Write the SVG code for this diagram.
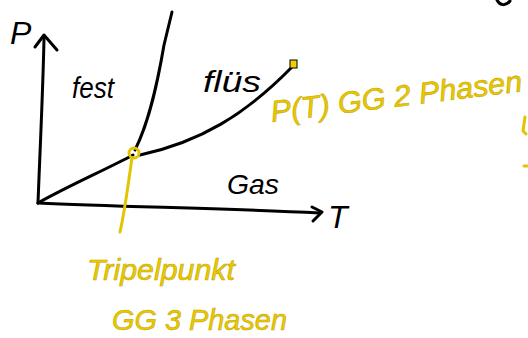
<svg xmlns="http://www.w3.org/2000/svg" width="528" height="338" viewBox="0 0 528 338">
<style>
.k{fill:none;stroke:#000;stroke-width:3;stroke-linecap:round;stroke-linejoin:round}
.y{fill:none;stroke:#e3c400;stroke-width:3;stroke-linecap:round;stroke-linejoin:round}
.tk{font-family:"Liberation Sans",sans-serif;fill:#000;font-style:italic}
.ty{font-family:"Liberation Sans",sans-serif;fill:#e8c900;stroke:#c9a800;stroke-width:0.6;font-style:italic}
</style>
<rect width="528" height="338" fill="#fff"/>
<g id="axes">
<path class="k" d="M38,203 C40,150 43,90 44,38"/>
<path class="k" d="M35,47 L44,35 L57,50"/>
<path class="k" d="M38,203 C120,207 220,208 320,213"/>
<path class="k" d="M312,207 L322,212 L313,221"/>
</g>
<g id="curves">
<path class="k" d="M38,203 C70,185 105,170 133,155"/>
<path class="k" d="M135,150 C150,120 158,80 164,45 L172,12"/>
<path class="k" d="M140,155 C200,142 245,115 292,67"/>
<path class="k" d="M497,0 C500,6 506,6 510,1"/>
</g>
<g id="labels">
<text class="tk" x="10" y="44" font-size="32">P</text>
<text class="tk" x="328" y="228" font-size="32">T</text>
<text class="tk" x="72" y="98" font-size="30" textLength="42" lengthAdjust="spacingAndGlyphs">fest</text>
<text class="tk" x="203" y="92" font-size="30" textLength="58" lengthAdjust="spacingAndGlyphs">flüs</text>
<text class="tk" x="227" y="194" font-size="28" textLength="52" lengthAdjust="spacingAndGlyphs">Gas</text>
</g>
<g id="triple-point">
<circle class="y" cx="134" cy="153" r="5"/>
<path class="y" d="M132,158 C128,185 125,210 120,232"/>
</g>
<g id="critical-point">
<rect x="290" y="60" width="7" height="8" fill="#f0d000" stroke="#000" stroke-width="1"/>
</g>
<g id="yellow-text">
<text class="ty" x="272" y="122" font-size="30" textLength="253" lengthAdjust="spacingAndGlyphs" transform="rotate(-7 272 122)">P(T) GG 2 Phasen</text>
<text class="ty" x="87" y="280" font-size="30" textLength="148" lengthAdjust="spacingAndGlyphs">Tripelpunkt</text>
<text class="ty" x="112" y="330" font-size="30" textLength="175" lengthAdjust="spacingAndGlyphs">GG 3 Phasen</text>
<path class="y" d="M525,117 L523,131 L526,134"/>
<path class="y" d="M524,166 L527,166"/>
</g>
</svg>
